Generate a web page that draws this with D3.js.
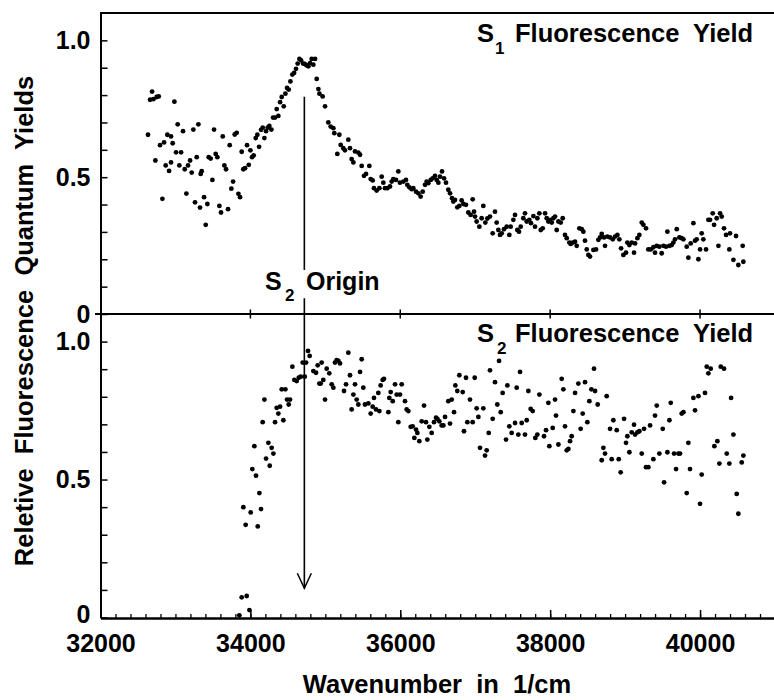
<!DOCTYPE html>
<html>
<head>
<meta charset="utf-8">
<script src="https://cdn.jsdelivr.net/npm/d3@7"></script>
<style>
body { margin: 0; background: #fff; }
svg text { font-family: 'Liberation Sans', Arial, sans-serif; font-weight: bold; white-space: pre; fill: #000; }
</style>
</head>
<body>
<svg id="canvas"></svg>
<script>
// S1 fluorescence yield (top panel)
let s1Wavenumber = [
32634,32661,32688,32705,32750,32777,32732,32794,32826,32848,32870,32892,32915,32941,32941,32963,32986,33008,33030,33052,
33075,33101,33124,33146,33168,33195,33217,33239,33261,33284,33306,33328,33337,33350,33382,33404,33426,33444,33470,33493,
33515,33537,33559,33586,33608,33631,33653,33675,33702,33724,33746,33769,33791,33817,33840,33862,33884,33906,33929,33955,
33978,34000,34022,34044,34071,34093,34116,34142,34164,34187,34209,34231,34253,34280,34302,34329,34351,34373,34396,34418,
34445,34467,34489,34511,34534,34560,34583,34609,34631,34654,34676,34703,34725,34747,34774,34796,34818,34840,34863,34885,
34907,34921,
34964,34996,35040,35071,35107,35120,35187,35160,35205,35240,35262,35307,35329,35351,35374,35396,35440,35463,35485,35516,
35543,35587,35605,35632,35649,35685,35721,35752,35774,35796,35827,35863,35885,35907,35943,35974,35996,36041,36076,36094,
36121,36152,36174,36210,36241,36272,36299,36330,36352,36374,36406,36432,36463,36486,36508,36530,36557,36584,36610,36641,
36664,36690,36708,36730,36761,36788,36819,36842,36877,36908,36939,36966,36984,36997,37019,37055,37086,37108,37135,37162,
37197,37233,37264,37286,37309,37331,37353,37384,37420,37455,37473,37509,37531,37562,37584,37607,37642,37664,37687,37722,
37744,37776,37798,37829,37856,
37874,37900,37932,37954,37976,37998,38021,38043,38065,38087,38110,38141,38167,38198,38221,38256,38274,38301,38332,38354,
38390,38421,38443,38465,38488,38510,38532,38577,38612,38643,38666,38688,38719,38732,38763,38799,38835,38866,38897,38923,
38946,38977,39012,39030,39057,39088,39119,39133,39164,39190,39222,39244,39279,39310,39342,39377,39399,39422,39457,39488,
39511,39546,39564,39591,39622,39644,39666,39689,39724,39755,39778,39822,39844,39875,39911,39933,39955,39978,40000,40022,
40044,40080,40111,40133,40169,40187,40222,40245,40267,40289,40320,40347,40391,40400,40445,40480,40511,40569,40578
]
let s1Yield = [
.655,.783,.813,.785,.793,.795,.561,.617,.421,.627,.543,.655,.523,.649,.554,.624,.776,.591,.693,.543,
.591,.668,.529,.440,.543,.561,.517,.674,.408,.573,.693,.389,.512,.522,.427,.326,.402,.573,.568,.490,
.674,.585,.573,.395,.371,.649,.543,.529,.383,.617,.458,.484,.656,.662,.439,.427,.593,.529,.533,.617,
.545,.598,.573,.580,.643,.655,.611,.673,.681,.643,.668,.681,.687,.674,.718,.718,.749,.724,.774,.793,
.759,.805,.826,.820,.850,.875,.881,.896,.915,.932,.927,.915,.914,.909,.905,.917,.932,.911,.932,.859,
.822,.805,
.795,.759,.700,.685,.679,.661,.655,.585,.618,.606,.598,.637,.606,.566,.554,.594,.590,.582,.541,.505,
.512,.541,.493,.488,.460,.451,.460,.502,.480,.460,.460,.466,.484,.493,.490,.521,.480,.484,.490,.472,
.463,.456,.460,.447,.441,.429,.447,.472,.484,.478,.490,.496,.505,.490,.480,.502,.521,.496,.480,.454,
.441,.423,.411,.417,.390,.395,.415,.402,.399,.371,.362,.419,.374,.356,.338,.319,.350,.395,.334,.349,
.356,.295,.374,.334,.307,.289,.295,.310,.319,.289,.319,.344,.362,.307,.301,.319,.350,.368,.338,.344,
.332,.358,.319,.350,.368,
.307,.313,.368,.350,.338,.344,.334,.350,.356,.307,.338,.334,.350,.289,.277,.261,.256,.261,.264,.249,
.313,.310,.301,.268,.236,.216,.210,.234,.236,.271,.280,.293,.280,.249,.283,.280,.273,.283,.289,.273,
.240,.216,.224,.261,.252,.261,.224,.258,.277,.289,.334,.326,.313,.236,.236,.244,.224,.249,.246,.222,
.249,.246,.301,.249,.252,.261,.273,.310,.280,.277,.273,.246,.206,.258,.332,.268,.273,.200,.236,.295,
.273,.236,.344,.344,.368,.326,.350,.249,.368,.356,.313,.289,.236,.295,.198,.285,.179,.249,.191
]

// S2 fluorescence yield (bottom panel)
let s2Wavenumber = [
33853,33884,33951,33987,33906,33937,34004,34026,34053,34075,34098,34120,34142,34164,34187,34209,34240,34258,34284,34307,
34329,34351,34373,34396,34418,34440,34467,34489,34511,34529,34560,34587,34618,34645,34672,34698,34725,34743,34769,34791,
34840,34876,34898,34920,
34951,34938,34973,34996,35018,35053,35085,35107,35129,35151,35174,35196,35249,35276,35307,35329,35351,35374,35396,35418,
35440,35463,35485,35507,35529,35574,35605,35632,35649,35676,35707,35721,35738,35765,35783,35841,35854,35872,35899,35930,
35952,35974,35996,36019,36063,36085,36108,36139,36165,36188,36210,36228,36254,36286,36317,36343,36361,36388,36419,36450,
36477,36495,36521,36552,36575,36597,36641,36664,36686,36717,36735,36761,36788,36833,36850,36877,36895,36930,36966,36993,
37019,37042,37064,37108,37131,37153,37180,37197,37233,37264,37295,37318,37340,37366,37411,37429,37455,37486,37531,37553,
37575,37598,37620,37664,37687,37709,37740,37767,37802,37829,37856,
37918,37945,37976,37989,38034,38065,38078,38110,38154,38176,38198,38221,38243,38265,38287,38310,38332,38376,38407,38434,
38465,38496,38523,38550,38585,38599,38634,38688,38710,38732,38754,38799,38821,38843,38888,38915,38941,38986,39012,39030,
39057,39088,39119,39133,39164,39190,39222,39253,39279,39310,39333,39377,39399,39422,39457,39502,39520,39564,39591,39609,
39653,39680,39711,39733,39755,39778,39822,39844,39866,39911,39933,39978,40000,40022,40066,40089,40111,40142,40191,40231,
40258,40276,40320,40356,40391,40414,40445,40489,40511,40556,40578
]
let s2Yield = [
.008,.073,.078,.027,.400,.336,.381,.538,.621,.514,.330,.451,.393,.708,.790,.576,.633,.550,.615,.594,
.708,.760,.739,.764,.827,.715,.827,.790,.772,.790,.909,.861,.857,.869,.873,.924,.873,.924,.966,.948,
.893,.887,.914,.848,
.924,.848,.861,.790,.902,.885,.845,.833,.924,.933,.930,.921,.821,.845,.960,.878,.754,.808,.845,.790,
.772,.890,.936,.833,.772,.776,.739,.764,.796,.754,.814,.748,.841,.861,.865,.744,.796,.817,.784,.845,
.808,.708,.808,.845,.784,.754,.748,.691,.693,.651,.681,.669,.639,.711,.768,.708,.645,.691,.669,.708,
.724,.720,.711,.696,.696,.727,.784,.703,.790,.744,.841,.821,.878,.817,.675,.869,.708,.790,.708,.869,
.758,.727,.615,.758,.587,.606,.669,.896,.720,.853,.772,.930,.744,.814,.645,.841,.693,.669,.705,.833,
.663,.890,.705,.663,.715,.821,.756,.748,.651,.663,.808,
.657,.679,.778,.621,.687,.790,.732,.627,.865,.827,.693,.606,.611,.639,.657,.748,.814,.848,.684,.739,
.853,.708,.784,.827,.902,.821,.772,.570,.615,.594,.802,.684,.574,.715,.679,.574,.526,.720,.633,.657,
.599,.671,.699,.663,.671,.675,.594,.684,.545,.545,.696,.574,.732,.768,.594,.684,.490,.599,.715,.778,
.594,.538,.594,.594,.739,.744,.451,.633,.538,.796,.751,.802,.412,.518,.814,.909,.885,.902,.621,.639,
.558,.909,.902,.594,.558,.796,.663,.448,.376,.562,.587
]

let xMajorTicks = [32000, 34000, 36000, 38000, 40000]
let yTickValues = [0, 0.5, 1.0]
let yTickLabels = ['0', '0.5', '1.0']

// S2 origin marker: wavenumber, arrow start (top yield), text gap, arrow end (bottom yield)
let originWave = 34720
let originTopStart = 0.794
let originGapTop = 0.161
let originGapBottom = 0.058
let originBottomEnd = 0.106

let width = 774
let height = 700

let svg = d3.select('#canvas').attr('width', width).attr('height', height)

let xScale = d3.scaleLinear().domain([32000, 41000]).range([100.5, 775])
let yTop = d3.scaleLinear().domain([0, 1.1]).range([314, 13])
let yBottom = d3.scaleLinear().domain([0, 1.1]).range([617.5, 314])

let drawFrame = () => {
    // top border and middle divider
    svg.append('line').attr('x1', 100).attr('x2', 775).attr('y1', 13).attr('y2', 13)
        .attr('stroke', '#000').attr('stroke-width', 2)
    svg.append('line').attr('x1', 95).attr('x2', 775).attr('y1', 314).attr('y2', 314)
        .attr('stroke', '#000').attr('stroke-width', 2)

    // major ticks crossing the divider
    svg.append('g').selectAll('line')
        .data(xMajorTicks.slice(1))
        .enter()
        .append('line')
        .attr('x1', (d) => xScale(d)).attr('x2', (d) => xScale(d))
        .attr('y1', 309.5).attr('y2', 318.5)
        .attr('stroke', '#000').attr('stroke-width', 1.5)
}

let drawYAxis = (scale, isBottom) => {
    let minor = d3.axisLeft(scale)
        .tickValues(d3.range(0, 1.05, 0.1))
        .tickSizeInner(-7)
        .tickSizeOuter(0)
        .tickFormat('')
    let g = svg.append('g').attr('transform', 'translate(100.5, 0)').call(minor)
    g.select('.domain').attr('stroke-width', 2)
    g.selectAll('.tick line').attr('stroke-width', 1.5)

    let major = d3.axisLeft(scale)
        .tickValues(yTickValues)
        .tickSizeInner(0)
        .tickSizeOuter(0)
        .tickPadding(10)
        .tickFormat((d, i) => yTickLabels[i])
    let g2 = svg.append('g').attr('transform', 'translate(100.5, 0)').call(major)
    g2.select('.domain').remove()
    g2.selectAll('text').attr('font-size', 25)
    // the bottom "0" sits a little above its tick, clear of the x labels
    if (isBottom) {
        g2.selectAll('text').filter((d) => d === 0).attr('dy', '0.2em')
    }
}

let drawXAxis = () => {
    let minor = d3.axisBottom(xScale)
        .tickValues(d3.range(32000, 41001, 200))
        .tickSizeInner(-4)
        .tickSizeOuter(0)
        .tickFormat('')
    let g = svg.append('g').attr('transform', 'translate(0, 618)').call(minor)
    g.select('.domain').attr('stroke-width', 2.5)
    g.selectAll('.tick line').attr('stroke-width', 1.3)

    let major = d3.axisBottom(xScale)
        .tickValues(xMajorTicks)
        .tickSizeInner(-8)
        .tickSizeOuter(0)
        .tickPadding(16)
        .tickFormat(d3.format('d'))
    let g2 = svg.append('g').attr('transform', 'translate(0, 618)').call(major)
    g2.select('.domain').remove()
    g2.selectAll('.tick line').attr('stroke-width', 1.5)
    g2.selectAll('text').attr('font-size', 25)
}

let drawPoints = (xs, ys, yScale) => {
    svg.append('g').selectAll('circle')
        .data(xs.map((x, i) => [x, ys[i]]))
        .enter()
        .append('circle')
        .attr('cx', (d) => xScale(d[0]))
        .attr('cy', (d) => yScale(d[1]))
        .attr('r', 2.4)
        .attr('fill', '#000')
}

let drawOrigin = () => {
    let x = xScale(originWave)
    let yEnd = yBottom(originBottomEnd)
    svg.append('line').attr('x1', x).attr('x2', x)
        .attr('y1', yTop(originTopStart)).attr('y2', yTop(originGapTop))
        .attr('stroke', '#000').attr('stroke-width', 1.6)
    svg.append('line').attr('x1', x).attr('x2', x)
        .attr('y1', yTop(originGapBottom)).attr('y2', yEnd)
        .attr('stroke', '#000').attr('stroke-width', 1.6)
    svg.append('path')
        .attr('d', 'M' + (x - 7) + ',' + (yEnd - 15) + 'L' + x + ',' + yEnd + 'L' + (x + 7) + ',' + (yEnd - 15))
        .attr('fill', 'none').attr('stroke', '#000').attr('stroke-width', 1.5)

    let t = svg.append('text').attr('x', 265).attr('y', 290).attr('font-size', 25)
    t.append('tspan').text('S')
    t.append('tspan').attr('x', 285).attr('dy', 11).attr('font-size', 17).text('2')
    t.append('tspan').attr('x', 306).attr('dy', -11).text('Origin')
}

let drawLabels = () => {
    let t1 = svg.append('text').attr('x', 477).attr('y', 42).attr('font-size', 25.5)
    t1.append('tspan').text('S')
    t1.append('tspan').attr('x', 495).attr('dy', 12).attr('font-size', 17).text('1')
    t1.append('tspan').attr('x', 515).attr('dy', -12).text('Fluorescence  Yield')

    let t2 = svg.append('text').attr('x', 477).attr('y', 342).attr('font-size', 25.5)
    t2.append('tspan').text('S')
    t2.append('tspan').attr('x', 497).attr('dy', 12).attr('font-size', 17).text('2')
    t2.append('tspan').attr('x', 515).attr('dy', -12).text('Fluorescence  Yield')

    svg.append('text')
        .attr('x', 437).attr('y', 693)
        .attr('text-anchor', 'middle')
        .attr('font-size', 25.5)
        .text('Wavenumber  in  1/cm')

    svg.append('text')
        .attr('transform', 'translate(33, 321) rotate(-90)')
        .attr('text-anchor', 'middle')
        .attr('font-size', 25.5)
        .text('Reletive  Fluorescence  Quantum  Yields')
}

drawFrame()
drawYAxis(yTop, false)
drawYAxis(yBottom, true)
drawXAxis()
drawPoints(s1Wavenumber, s1Yield, yTop)
drawPoints(s2Wavenumber, s2Yield, yBottom)
drawOrigin()
drawLabels()
</script>
</body>
</html>
